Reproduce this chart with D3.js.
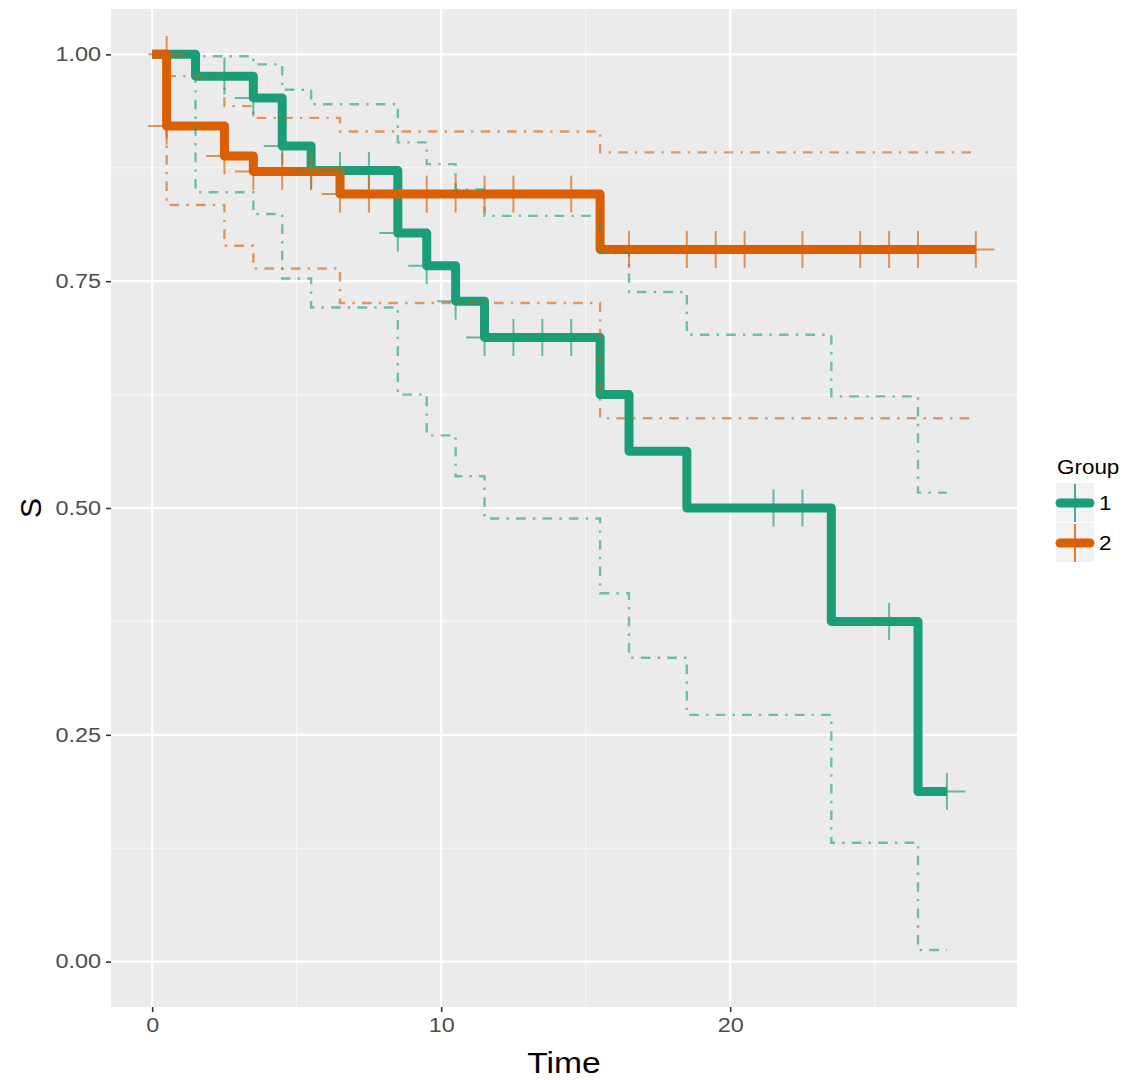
<!DOCTYPE html>
<html>
<head>
<meta charset="utf-8">
<script src="https://cdn.jsdelivr.net/npm/d3@7"></script>
<style>
  html, body { margin: 0; padding: 0; background: #ffffff; }
  svg { display: block; font-family: "Liberation Sans", Arial, sans-serif; }
</style>
</head>
<body>
<svg id="chart" width="1126" height="1080"></svg>
<script>
// ---------------- data ----------------
const groups = ["1", "2"];
const groupColors = ["#1B9E77", "#D95F02"];

const time1  = [0, 1.5, 3.5, 4.5, 5.5, 8.5, 9.5, 10.5, 11.5, 15.5, 16.5, 18.5, 23.5, 26.5, 27.5];
const surv1  = [1, 0.976, 0.952, 0.899, 0.872, 0.803, 0.767, 0.728, 0.688, 0.625, 0.5625, 0.5, 0.375, 0.1875, 0.1875];
const upper1 = [1, 0.998, 0.989, 0.961, 0.945, 0.903, 0.879, 0.851, 0.822, 0.781, 0.738, 0.691, 0.623, 0.517, 0.517];
const lower1 = [1, 0.848, 0.824, 0.753, 0.721, 0.625, 0.580, 0.535, 0.4885, 0.406, 0.335, 0.272, 0.131, 0.0128, 0.0128];
const censTime1 = [2.5, 3.5, 4.5, 5.5, 6.5, 7.5, 8.5, 9.5, 10.5, 11.5, 12.5, 13.5, 14.5, 21.5, 22.5, 25.5, 27.5];
const censSurv1 = [0.976, 0.952, 0.899, 0.872, 0.872, 0.872, 0.803, 0.767, 0.728, 0.688, 0.688, 0.688, 0.688, 0.5, 0.5, 0.375, 0.1875];

const time2  = [0, 0.5, 2.5, 3.5, 6.5, 15.5, 28.5];
const surv2  = [1, 0.921, 0.888, 0.871, 0.846, 0.785, 0.785];
const upper2 = [1, 0.976, 0.943, 0.930, 0.915, 0.892, 0.892];
const lower2 = [1, 0.834, 0.789, 0.764, 0.726, 0.599, 0.599];
const censTime2 = [0.5, 0.5, 2.5, 3.5, 4.5, 5.5, 6.5, 7.5, 9.5, 10.5, 11.5, 12.5, 14.5, 16.5, 18.5, 19.5, 20.5, 22.5, 24.5, 25.5, 26.5, 28.5];
const censSurv2 = [1.0, 0.921, 0.888, 0.871, 0.871, 0.871, 0.846, 0.846, 0.846, 0.846, 0.846, 0.846, 0.846, 0.785, 0.785, 0.785, 0.785, 0.785, 0.785, 0.785, 0.785, 0.785];

const xTicks = [0, 10, 20];
const xMinor = [5, 15, 25];
const yTicks = [0, 0.25, 0.5, 0.75, 1.0];
const yTickLabels = ["0.00", "0.25", "0.50", "0.75", "1.00"];
const yMinor = [0.125, 0.375, 0.625, 0.875];

const xTitle = "Time";
const yTitle = "S";
const legendTitle = "Group";

// ---------------- layout ----------------
const panel = { left: 111, right: 1017, top: 9, bottom: 1007 };

const svg = d3.select("#chart");
const x = d3.scaleLinear().domain([-1.425, 29.925]).range([panel.left, panel.right]);
const y = d3.scaleLinear().domain([-0.05, 1.05]).range([panel.bottom, panel.top]);

function stretcher(f) {
  return function (sel) {
    sel.each(function () {
      const len = this.getComputedTextLength();
      if (len > 0) {
        this.setAttribute("textLength", (len * f).toFixed(2));
        this.setAttribute("lengthAdjust", "spacingAndGlyphs");
      }
    });
  };
}

// panel background
svg.append("rect")
  .attr("x", panel.left).attr("y", panel.top)
  .attr("width", panel.right - panel.left).attr("height", panel.bottom - panel.top)
  .attr("fill", "#EBEBEB");

const grid = svg.append("g");
grid.selectAll(".ym").data(yMinor).enter().append("line")
  .attr("x1", panel.left).attr("x2", panel.right)
  .attr("y1", d => y(d)).attr("y2", d => y(d))
  .attr("stroke", "#F7F7F7").attr("stroke-width", 1.1);
grid.selectAll(".xm").data(xMinor).enter().append("line")
  .attr("y1", panel.top).attr("y2", panel.bottom)
  .attr("x1", d => x(d)).attr("x2", d => x(d))
  .attr("stroke", "#F7F7F7").attr("stroke-width", 1.1);
grid.selectAll(".yM").data(yTicks).enter().append("line")
  .attr("x1", panel.left).attr("x2", panel.right)
  .attr("y1", d => y(d)).attr("y2", d => y(d))
  .attr("stroke", "#FFFFFF").attr("stroke-width", 2.2);
grid.selectAll(".xM").data(xTicks).enter().append("line")
  .attr("y1", panel.top).attr("y2", panel.bottom)
  .attr("x1", d => x(d)).attr("x2", d => x(d))
  .attr("stroke", "#FFFFFF").attr("stroke-width", 2.2);

// axes
const yAxis = d3.axisLeft(y).tickValues(yTicks)
  .tickFormat((d, i) => yTickLabels[i]).tickSize(5).tickPadding(5);
const gy = svg.append("g").attr("transform", `translate(${panel.left},0)`).call(yAxis);
gy.select(".domain").remove();
gy.selectAll(".tick line").attr("stroke", "#333333").attr("stroke-width", 1.6);
gy.selectAll(".tick text").attr("fill", "#4D4D4D")
  .style("font-size", "19.5px").style("font-family", "'Liberation Sans', Arial, sans-serif")
  .call(stretcher(1.2));

const xAxis = d3.axisBottom(x).tickValues(xTicks).tickFormat(d3.format("d")).tickSize(5).tickPadding(6);
const gx = svg.append("g").attr("transform", `translate(0,${panel.bottom})`).call(xAxis);
gx.select(".domain").remove();
gx.selectAll(".tick line").attr("stroke", "#333333").attr("stroke-width", 1.6);
gx.selectAll(".tick text").attr("fill", "#4D4D4D")
  .style("font-size", "19.5px").style("font-family", "'Liberation Sans', Arial, sans-serif")
  .call(stretcher(1.2));

// axis titles
svg.append("text").attr("x", (panel.left + panel.right) / 2).attr("y", 1073)
  .attr("text-anchor", "middle").attr("fill", "#000")
  .style("font-size", "30px").text(xTitle).call(stretcher(1.12));
svg.append("text")
  .attr("transform", `translate(41,${(panel.top + panel.bottom) / 2}) rotate(-90)`)
  .attr("text-anchor", "middle").attr("fill", "#000")
  .style("font-size", "30px").text(yTitle);

// ---------------- series ----------------
const series = [
  { key: groups[0], color: groupColors[0], t: time1, s: surv1, up: upper1, lo: lower1, ct: censTime1, cs: censSurv1 },
  { key: groups[1], color: groupColors[1], t: time2, s: surv2, up: upper2, lo: lower2, ct: censTime2, cs: censSurv2 }
];

const step = d3.line().x(d => x(d[0])).y(d => y(d[1])).curve(d3.curveStepAfter);

svg.append("defs").append("clipPath").attr("id", "pclip")
  .append("rect").attr("x", panel.left).attr("y", panel.top)
  .attr("width", panel.right - panel.left).attr("height", panel.bottom - panel.top);

const plot = svg.append("g").attr("clip-path", "url(#pclip)");

// main survival lines
series.forEach(sr => {
  plot.append("path")
    .datum(sr.t.map((t, i) => [t, sr.s[i]]))
    .attr("d", step)
    .attr("fill", "none")
    .attr("stroke", sr.color)
    .attr("stroke-width", 9)
    .attr("stroke-linejoin", "round");
});

// confidence bands (dot-dash)
series.forEach(sr => {
  [sr.up, sr.lo].forEach(arr => {
    plot.append("path")
      .datum(sr.t.map((t, i) => [t, arr[i]]))
      .attr("d", step)
      .attr("fill", "none")
      .attr("stroke", sr.color)
      .attr("stroke-opacity", 0.6)
      .attr("stroke-width", 2.4)
      .attr("stroke-dasharray", "2.4,7.2,9.6,7.2");
  });
});

// censor marks (+)
const arm = 18.5;
series.forEach(sr => {
  const pts = sr.ct.map((t, i) => [t, sr.cs[i]]);
  const g = plot.append("g").attr("stroke", sr.color).attr("stroke-opacity", 0.65).attr("stroke-width", 2);
  g.selectAll(".v").data(pts).enter().append("line")
    .attr("x1", d => x(d[0])).attr("x2", d => x(d[0]))
    .attr("y1", d => y(d[1]) - arm).attr("y2", d => y(d[1]) + arm);
  g.selectAll(".h").data(pts).enter().append("line")
    .attr("x1", d => x(d[0]) - arm).attr("x2", d => x(d[0]) + arm)
    .attr("y1", d => y(d[1])).attr("y2", d => y(d[1]));
});

// ---------------- legend ----------------
const lg = svg.append("g");
lg.append("text").attr("x", 1057).attr("y", 474).attr("fill", "#000")
  .style("font-size", "19.5px").text(legendTitle).call(stretcher(1.15));
series.forEach((sr, i) => {
  const top = 483 + i * 40;
  const cy = top + 20;
  lg.append("rect").attr("x", 1056).attr("y", top).attr("width", 38).attr("height", 39)
    .attr("fill", "#F2F2F2");
  lg.append("line").attr("x1", 1060).attr("x2", 1090).attr("y1", cy).attr("y2", cy)
    .attr("stroke", sr.color).attr("stroke-width", 9).attr("stroke-linecap", "round");
  lg.append("line").attr("x1", 1075).attr("x2", 1075).attr("y1", cy - 19).attr("y2", cy + 19)
    .attr("stroke", sr.color).attr("stroke-opacity", 0.8).attr("stroke-width", 2);
  lg.append("text").attr("x", 1099).attr("y", cy).attr("dy", "0.36em").attr("fill", "#000")
    .style("font-size", "19.5px").text(sr.key).call(stretcher(1.15));
});
</script>
</body>
</html>
